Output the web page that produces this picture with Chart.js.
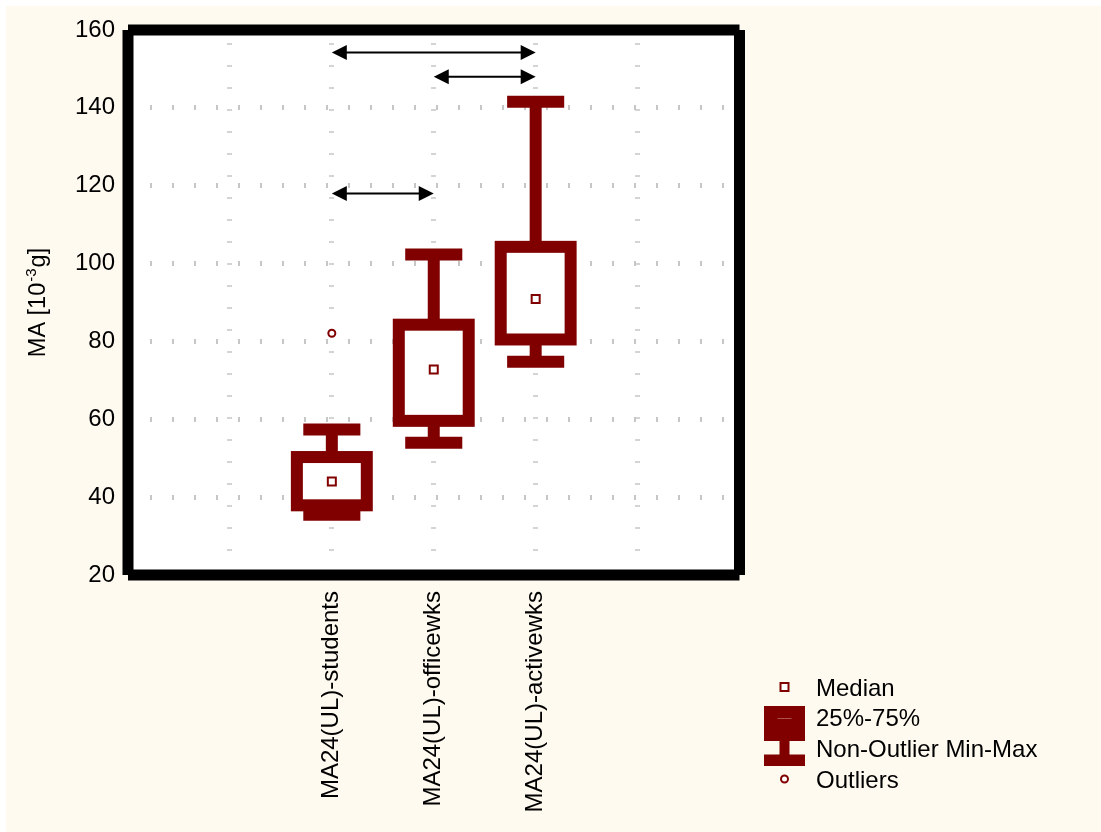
<!DOCTYPE html>
<html>
<head>
<meta charset="utf-8">
<title>MA24(UL) box plot</title>
<script src="https://cdn.jsdelivr.net/npm/chart.js@4.4.1/dist/chart.umd.min.js"></script>
<style>
  html, body { margin: 0; padding: 0; background: #ffffff; }
  #wrap { width: 1101px; height: 832px; position: relative; }
</style>
</head>
<body>
<div id="wrap"><canvas id="chart"></canvas></div>
<script>
// ---- data ----
const categories  = ['MA24(UL)-students', 'MA24(UL)-officewks', 'MA24(UL)-activewks'];
const whiskerLow  = [35.5, 54.0, 74.8];   // non-outlier minimum
const quartile1   = [37.9, 59.6, 80.5];   // 25%
const medians     = [44.0, 72.8, 90.9];
const quartile3   = [50.3, 84.3, 104.3];  // 75%
const whiskerHigh = [57.4, 102.3, 141.6]; // non-outlier maximum
const outlierGroup = [0];
const outlierValue = [82.1];
// significant-difference brackets between groups
const compareFrom  = [0, 1, 0];
const compareTo    = [2, 2, 1];
const compareLevel = [154.2, 148.0, 118.0];
const yMin = 20, yMax = 160, yStep = 20;
const yTitle = { main: 'MA [10', sup: '-3', tail: 'g]' };
const legendLabels = ['Median', '25%-75%', 'Non-Outlier Min-Max', 'Outliers'];

// ---- style ----
const SLOT_OFFSET = 2;   // empty slots left of the first group
const SLOT_COUNT = 6;
const RED = '#800000';
const FONT = '"Liberation Sans", Arial, Helvetica, sans-serif';
const FONT_SIZE = 24;
const GRID = '#c6c6c6';

function seg(ctx, x1, y1, x2, y2) {
  ctx.beginPath(); ctx.moveTo(x1, y1); ctx.lineTo(x2, y2); ctx.stroke();
}

const backgroundPlugin = {
  id: 'backgroundPlugin',
  beforeDraw(chart) {
    const { ctx, chartArea: a } = chart;
    ctx.save();
    ctx.fillStyle = '#ffffff';
    ctx.fillRect(0, 0, chart.width, chart.height);
    ctx.fillStyle = '#fffaf0';
    ctx.fillRect(6, 6, chart.width - 6, chart.height - 6);
    ctx.fillStyle = '#ffffff';
    ctx.fillRect(a.left, a.top, a.width, a.height);
    ctx.restore();
  }
};

const boxPlugin = {
  id: 'boxPlugin',
  beforeDatasetsDraw(chart) {
    const { ctx, scales: { x, y } } = chart;
    const unit = x.getPixelForValue(1) - x.getPixelForValue(0);
    const boxHalf = unit * 0.343, capHalf = unit * 0.28, thick = 12;
    ctx.save();
    ctx.strokeStyle = RED;
    ctx.lineCap = 'butt';
    ctx.lineWidth = thick;
    categories.forEach((_, i) => {
      const cx = x.getPixelForValue(i + SLOT_OFFSET);
      const pLo = y.getPixelForValue(whiskerLow[i]);
      const pHi = y.getPixelForValue(whiskerHigh[i]);
      const pQ1 = y.getPixelForValue(quartile1[i]);
      const pQ3 = y.getPixelForValue(quartile3[i]);
      seg(ctx, cx, pQ3, cx, pHi);
      seg(ctx, cx, pQ1, cx, pLo);
      seg(ctx, cx - capHalf, pHi, cx + capHalf, pHi);
      seg(ctx, cx - capHalf, pLo, cx + capHalf, pLo);
      ctx.fillStyle = '#ffffff';
      ctx.fillRect(cx - boxHalf, pQ3, boxHalf * 2, pQ1 - pQ3);
      ctx.strokeRect(cx - boxHalf, pQ3, boxHalf * 2, pQ1 - pQ3);
    });
    ctx.restore();
  }
};

const arrowPlugin = {
  id: 'arrowPlugin',
  afterDatasetsDraw(chart) {
    const { ctx, scales: { x, y } } = chart;
    const head = 15, half = 7.5;
    ctx.save();
    ctx.strokeStyle = '#000'; ctx.fillStyle = '#000'; ctx.lineWidth = 2;
    compareLevel.forEach((lvl, k) => {
      const x1 = x.getPixelForValue(compareFrom[k] + SLOT_OFFSET);
      const x2 = x.getPixelForValue(compareTo[k] + SLOT_OFFSET);
      const py = y.getPixelForValue(lvl);
      seg(ctx, x1 + head - 1, py, x2 - head + 1, py);
      ctx.beginPath();
      ctx.moveTo(x1, py); ctx.lineTo(x1 + head, py - half); ctx.lineTo(x1 + head, py + half);
      ctx.closePath(); ctx.fill();
      ctx.beginPath();
      ctx.moveTo(x2, py); ctx.lineTo(x2 - head, py - half); ctx.lineTo(x2 - head, py + half);
      ctx.closePath(); ctx.fill();
    });
    ctx.restore();
  }
};

const framePlugin = {
  id: 'framePlugin',
  afterDatasetsDraw(chart) {
    const { ctx, chartArea: a } = chart;
    ctx.save();
    ctx.strokeStyle = '#000'; ctx.lineWidth = 11; ctx.lineCap = 'butt';
    seg(ctx, a.left, a.top, a.right, a.top);
    seg(ctx, a.right, a.top, a.right, a.bottom);
    seg(ctx, a.left, a.bottom, a.right, a.bottom);
    seg(ctx, a.left, a.top, a.left, a.bottom);
    ctx.restore();
  }
};

const titlePlugin = {
  id: 'titlePlugin',
  afterDraw(chart) {
    const { ctx, chartArea: a } = chart;
    const mainFont = '23.5px ' + FONT, supFont = '15px ' + FONT;
    ctx.save();
    ctx.font = mainFont;
    const w1 = ctx.measureText(yTitle.main).width;
    const w3 = ctx.measureText(yTitle.tail).width;
    ctx.font = supFont;
    const w2 = ctx.measureText(yTitle.sup).width + 2;
    const total = w1 + w2 + w3;
    ctx.translate(45, (a.top + a.bottom) / 2);
    ctx.rotate(-Math.PI / 2);
    ctx.fillStyle = '#000';
    ctx.textBaseline = 'alphabetic';
    ctx.textAlign = 'left';
    let px = -total / 2;
    ctx.font = mainFont; ctx.fillText(yTitle.main, px, 0); px += w1 + 1;
    ctx.font = supFont; ctx.fillText(yTitle.sup, px, -9); px += w2 - 1;
    ctx.font = mainFont; ctx.fillText(yTitle.tail, px, 0);
    ctx.restore();
  }
};

const keyPlugin = {
  id: 'keyPlugin',
  afterDraw(chart) {
    const { ctx } = chart;
    const left = 764, top = 682, rowH = 30.7, symW = 41, textX = 816;
    const mid = left + symW / 2;
    ctx.save();
    // median marker
    ctx.fillStyle = '#fff'; ctx.strokeStyle = RED; ctx.lineWidth = 2;
    ctx.fillRect(mid - 4, top + 1, 8, 8);
    ctx.strokeRect(mid - 4, top + 1, 8, 8);
    // quartile box
    ctx.fillStyle = RED;
    ctx.fillRect(left, top + 24, symW, 25);
    ctx.strokeStyle = '#b05050'; ctx.lineWidth = 1;
    seg(ctx, mid - 7, top + 36.5, mid + 7, top + 36.5);
    // min-max whisker
    ctx.fillStyle = RED;
    ctx.fillRect(left, top + 49, symW, 10);
    ctx.fillRect(mid - 5, top + 59, 10, 14);
    ctx.fillRect(left, top + 72.5, symW, 11.5);
    // outlier marker
    ctx.fillStyle = '#fff'; ctx.strokeStyle = RED; ctx.lineWidth = 2;
    ctx.beginPath(); ctx.arc(mid, top + 97, 3.5, 0, Math.PI * 2); ctx.fill(); ctx.stroke();
    // labels
    ctx.fillStyle = '#000';
    ctx.font = FONT_SIZE + 'px ' + FONT;
    ctx.textBaseline = 'middle';
    ctx.textAlign = 'left';
    legendLabels.forEach((t, i) => ctx.fillText(t, textX, top + 7 + i * rowH));
    ctx.restore();
  }
};

new Chart(document.getElementById('chart'), {
  type: 'scatter',
  data: {
    datasets: [
      {
        label: 'Median',
        data: medians.map((v, i) => ({ x: i + SLOT_OFFSET, y: v })),
        pointStyle: 'rect',
        pointRadius: 5.66,
        pointHoverRadius: 5.66,
        borderWidth: 2,
        borderColor: RED,
        backgroundColor: '#ffffff'
      },
      {
        label: 'Outliers',
        data: outlierValue.map((v, k) => ({ x: outlierGroup[k] + SLOT_OFFSET, y: v })),
        pointStyle: 'circle',
        pointRadius: 3.5,
        pointHoverRadius: 3.5,
        borderWidth: 2,
        borderColor: RED,
        backgroundColor: '#ffffff'
      }
    ]
  },
  options: {
    responsive: true,
    maintainAspectRatio: false,
    animation: false,
    events: [],
    layout: { padding: { left: 0, top: 30, right: 361.5, bottom: 0 } },
    plugins: { legend: { display: false }, tooltip: { enabled: false } },
    scales: {
      x: {
        type: 'linear',
        min: 0,
        max: SLOT_COUNT,
        afterFit(s) { s.height = 257; },
        ticks: {
          stepSize: 1,
          autoSkip: false,
          maxRotation: 90,
          minRotation: 90,
          padding: 16,
          color: '#000',
          font: { family: FONT, size: FONT_SIZE },
          callback: (v) => categories[v - SLOT_OFFSET] ?? ''
        },
        grid: { color: GRID, lineWidth: 5, drawTicks: false },
        border: { display: false, dash: [1.5, 20.5], dashOffset: 8.75 }
      },
      y: {
        min: yMin,
        max: yMax,
        afterFit(s) { s.width = 128; },
        ticks: {
          stepSize: yStep,
          padding: 13,
          color: '#000',
          font: { family: FONT, size: FONT_SIZE }
        },
        grid: { color: GRID, lineWidth: 5, drawTicks: false },
        border: { display: false, dash: [2, 20], dashOffset: 0 }
      }
    }
  },
  plugins: [backgroundPlugin, boxPlugin, arrowPlugin, framePlugin, titlePlugin, keyPlugin]
});
</script>
</body>
</html>
